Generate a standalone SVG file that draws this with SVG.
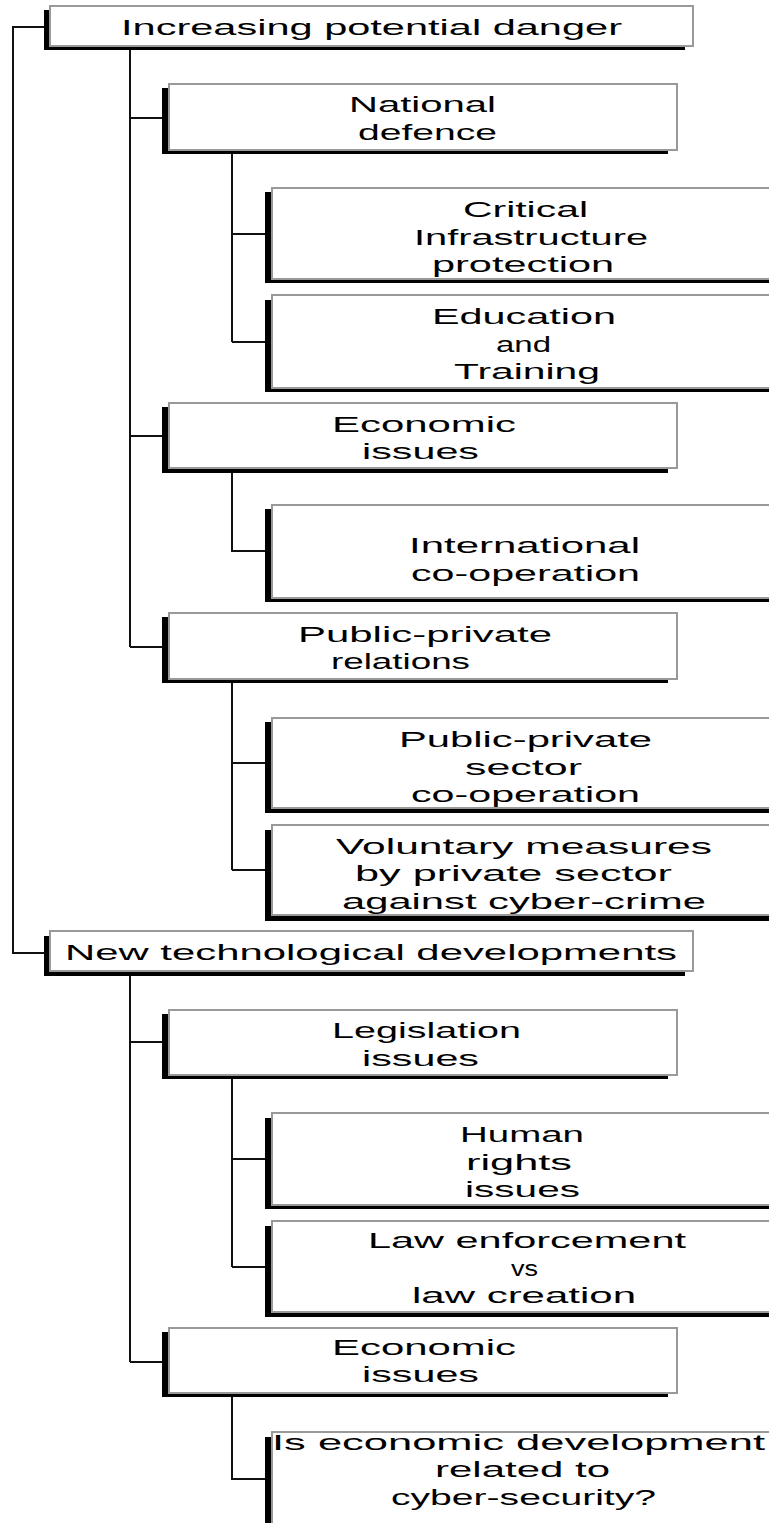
<svg xmlns="http://www.w3.org/2000/svg" width="769" height="1523" viewBox="0 0 769 1523">
<style>
.sh{fill:#000}
.bx{fill:#fff;stroke:#999;stroke-width:2}
.ln{fill:none;stroke:#111;stroke-width:2}
text{font-family:"Liberation Sans",Arial,sans-serif;font-size:22px;fill:#000}
</style>
<rect width="769" height="1523" fill="#fff"/>
<g id="connectors" class="ln">
<path d="M44,27H13V953H44"/>
<path d="M130,50V647M130,118H162M130,436H162M130,647H162"/>
<path d="M232,154V342M232,234H265M232,342H265"/>
<path d="M232,473V551H265"/>
<path d="M232,683V870M232,763H265M232,870H265"/>
<path d="M130,976V1362M130,1042H162M130,1362H162"/>
<path d="M232,1079V1267M232,1159H265M232,1267H265"/>
<path d="M232,1397V1479H265"/>
</g>
<g id="n1"><rect class="sh" x="44" y="10" width="641" height="40"/><rect class="bx" x="50" y="6" width="643" height="40"/>
<text x="121" y="35" textLength="501" lengthAdjust="spacingAndGlyphs">Increasing potential danger</text></g>
<g id="n2"><rect class="sh" x="162" y="88" width="506" height="66"/><rect class="bx" x="169" y="84" width="508" height="66"/>
<text x="349" y="112" textLength="147" lengthAdjust="spacingAndGlyphs">National</text>
<text x="358" y="140" textLength="139" lengthAdjust="spacingAndGlyphs">defence</text></g>
<g id="n3"><rect class="sh" x="265" y="192" width="520" height="91"/><rect class="bx" x="272" y="188" width="520" height="91"/>
<text x="463" y="217" textLength="125" lengthAdjust="spacingAndGlyphs">Critical</text>
<text x="414" y="245" textLength="234" lengthAdjust="spacingAndGlyphs">Infrastructure</text>
<text x="432" y="272" textLength="182" lengthAdjust="spacingAndGlyphs">protection</text></g>
<g id="n4"><rect class="sh" x="265" y="300" width="520" height="92"/><rect class="bx" x="272" y="295" width="520" height="93"/>
<text x="432" y="324" textLength="184" lengthAdjust="spacingAndGlyphs">Education</text>
<text x="496" y="352" textLength="55" lengthAdjust="spacingAndGlyphs">and</text>
<text x="454" y="379" textLength="146" lengthAdjust="spacingAndGlyphs">Training</text></g>
<g id="n5"><rect class="sh" x="162" y="407" width="506" height="66"/><rect class="bx" x="169" y="403" width="508" height="65"/>
<text x="332" y="432" textLength="184" lengthAdjust="spacingAndGlyphs">Economic</text>
<text x="362" y="459" textLength="117" lengthAdjust="spacingAndGlyphs">issues</text></g>
<g id="n6"><rect class="sh" x="265" y="509" width="520" height="93"/><rect class="bx" x="272" y="505" width="520" height="93"/>
<text x="409" y="553" textLength="231" lengthAdjust="spacingAndGlyphs">International</text>
<text x="411" y="581" textLength="229" lengthAdjust="spacingAndGlyphs">co-operation</text></g>
<g id="n7"><rect class="sh" x="162" y="617" width="506" height="66"/><rect class="bx" x="169" y="613" width="508" height="66"/>
<text x="298" y="642" textLength="254" lengthAdjust="spacingAndGlyphs">Public-private</text>
<text x="331" y="669" textLength="139" lengthAdjust="spacingAndGlyphs">relations</text></g>
<g id="n8"><rect class="sh" x="265" y="722" width="520" height="91"/><rect class="bx" x="272" y="718" width="520" height="90"/>
<text x="399" y="747" textLength="253" lengthAdjust="spacingAndGlyphs">Public-private</text>
<text x="465" y="775" textLength="117" lengthAdjust="spacingAndGlyphs">sector</text>
<text x="411" y="802" textLength="229" lengthAdjust="spacingAndGlyphs">co-operation</text></g>
<g id="n9"><rect class="sh" x="265" y="830" width="520" height="91"/><rect class="bx" x="272" y="825" width="520" height="90"/>
<text x="336" y="854" textLength="376" lengthAdjust="spacingAndGlyphs">Voluntary measures</text>
<text x="355" y="881" textLength="317" lengthAdjust="spacingAndGlyphs">by private sector</text>
<text x="342" y="909" textLength="364" lengthAdjust="spacingAndGlyphs">against cyber-crime</text></g>
<g id="n10"><rect class="sh" x="44" y="936" width="641" height="40"/><rect class="bx" x="50" y="931" width="643" height="40"/>
<text x="65" y="960" textLength="612" lengthAdjust="spacingAndGlyphs">New technological developments</text></g>
<g id="n11"><rect class="sh" x="162" y="1014" width="506" height="65"/><rect class="bx" x="169" y="1010" width="508" height="65"/>
<text x="332" y="1038" textLength="189" lengthAdjust="spacingAndGlyphs">Legislation</text>
<text x="362" y="1066" textLength="117" lengthAdjust="spacingAndGlyphs">issues</text></g>
<g id="n12"><rect class="sh" x="265" y="1118" width="520" height="91"/><rect class="bx" x="272" y="1113" width="520" height="92"/>
<text x="460" y="1142" textLength="124" lengthAdjust="spacingAndGlyphs">Human</text>
<text x="466" y="1170" textLength="106" lengthAdjust="spacingAndGlyphs">rights</text>
<text x="465" y="1197" textLength="115" lengthAdjust="spacingAndGlyphs">issues</text></g>
<g id="n13"><rect class="sh" x="265" y="1226" width="520" height="91"/><rect class="bx" x="272" y="1221" width="520" height="91"/>
<text x="368" y="1248" textLength="318" lengthAdjust="spacingAndGlyphs">Law enforcement</text>
<text x="511" y="1276" textLength="27" lengthAdjust="spacingAndGlyphs">vs</text>
<text x="412" y="1303" textLength="224" lengthAdjust="spacingAndGlyphs">law creation</text></g>
<g id="n14"><rect class="sh" x="162" y="1332" width="506" height="65"/><rect class="bx" x="169" y="1328" width="508" height="65"/>
<text x="332" y="1355" textLength="184" lengthAdjust="spacingAndGlyphs">Economic</text>
<text x="362" y="1382" textLength="117" lengthAdjust="spacingAndGlyphs">issues</text></g>
<g id="n15"><rect class="sh" x="265" y="1437" width="520" height="100"/><rect class="bx" x="272" y="1432" width="520" height="100"/>
<text x="272" y="1450" textLength="493" lengthAdjust="spacingAndGlyphs">Is economic development</text>
<text x="435" y="1477" textLength="175" lengthAdjust="spacingAndGlyphs">related to</text>
<text x="391" y="1505" textLength="265" lengthAdjust="spacingAndGlyphs">cyber-security?</text></g>
</svg>
